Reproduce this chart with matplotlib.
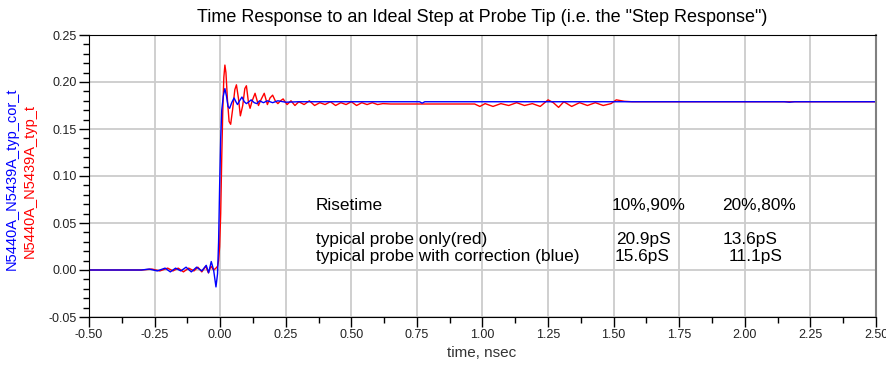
import matplotlib.pyplot as plt
from matplotlib.ticker import MultipleLocator

plt.rcParams['font.family'] = ['Liberation Sans', 'DejaVu Sans']

# probe only (red), time in nsec
red_t = [-0.50, -0.30, -0.26, -0.23, -0.20, -0.18, -0.16, -0.14, -0.12, -0.10,
         -0.085, -0.07, -0.055, -0.045, -0.035, -0.025, -0.016, -0.010, -0.006,
         -0.002, 0.002, 0.006, 0.010, 0.014, 0.018, 0.022, 0.028, 0.034, 0.040,
         0.048, 0.056, 0.062, 0.070, 0.077, 0.086, 0.094, 0.100, 0.108, 0.114,
         0.122, 0.133, 0.146, 0.157, 0.168, 0.180, 0.190, 0.200, 0.210, 0.220,
         0.230, 0.240, 0.255, 0.270, 0.285, 0.300, 0.320, 0.340, 0.360, 0.380,
         0.400, 0.420, 0.440, 0.460, 0.480, 0.500, 0.520, 0.540, 0.560, 0.580,
         0.600, 0.620, 0.650, 0.970, 0.990, 1.010, 1.040, 1.070, 1.100, 1.130,
         1.160, 1.190, 1.220, 1.250, 1.270, 1.290, 1.310, 1.340, 1.370, 1.400,
         1.430, 1.460, 1.490, 1.510, 1.540, 1.570, 2.500]
red_v = [0.000, 0.000, 0.001, -0.001, 0.002, -0.001, 0.002, -0.002, 0.002, -0.001,
         0.003, -0.002, 0.004, -0.003, 0.004, 0.000, 0.002, 0.004, 0.010,
         0.025, 0.060, 0.120, 0.170, 0.205, 0.218, 0.210, 0.180, 0.158, 0.155,
         0.172, 0.192, 0.197, 0.182, 0.164, 0.175, 0.193, 0.196, 0.178, 0.172,
         0.180, 0.188, 0.175, 0.182, 0.188, 0.176, 0.183, 0.186, 0.180, 0.177,
         0.180, 0.182, 0.176, 0.180, 0.175, 0.179, 0.176, 0.180, 0.175, 0.178,
         0.176, 0.179, 0.175, 0.178, 0.176, 0.179, 0.175, 0.178, 0.176, 0.178,
         0.176, 0.177, 0.1766, 0.1766, 0.174, 0.177, 0.174, 0.177, 0.175, 0.178,
         0.175, 0.177, 0.174, 0.181, 0.178, 0.173, 0.179, 0.174, 0.178, 0.175,
         0.178, 0.175, 0.177, 0.181, 0.1795, 0.179, 0.179]

# probe with correction (blue)
blue_t = [-0.50, -0.30, -0.27, -0.24, -0.21, -0.19, -0.17, -0.15, -0.13, -0.11,
          -0.09, -0.07, -0.053, -0.044, -0.034, -0.025, -0.016, -0.010, -0.006,
          -0.002, 0.002, 0.006, 0.012, 0.018, 0.024, 0.030, 0.036, 0.044, 0.053,
          0.060, 0.066, 0.074, 0.083, 0.092, 0.100, 0.110, 0.118, 0.130, 0.140,
          0.150, 0.165, 0.180, 0.200, 0.220, 0.250, 0.300, 0.760, 0.770, 0.780,
          2.150, 2.170, 2.190, 2.500]
blue_v = [0.000, 0.000, 0.001, -0.001, 0.002, -0.002, 0.002, -0.001, 0.003, -0.002,
          0.003, -0.001, 0.005, -0.003, 0.009, 0.000, -0.018, -0.004, 0.030,
          0.090, 0.140, 0.170, 0.185, 0.193, 0.185, 0.174, 0.172, 0.178, 0.183,
          0.179, 0.176, 0.180, 0.184, 0.179, 0.177, 0.179, 0.181, 0.178, 0.177,
          0.180, 0.178, 0.180, 0.178, 0.180, 0.1785, 0.179, 0.179, 0.1775, 0.179,
          0.179, 0.1785, 0.179, 0.179]

rise_rows = ['typical probe only(red)', 'typical probe with correction (blue)']
rise_1090 = ['20.9pS', '15.6pS']
rise_2080 = ['13.6pS', '11.1pS']

fig = plt.figure(figsize=(8.87, 3.69), dpi=100)
ax = fig.add_axes([89 / 887, 1 - 317 / 369, 787 / 887, 282 / 369])

ax.plot(red_t, red_v, color='#ff0000', lw=1.0)
ax.plot(blue_t, blue_v, color='#0000ff', lw=1.0)

ax.set_xlim(-0.5, 2.5)
ax.set_ylim(-0.05, 0.25)
ax.xaxis.set_major_locator(MultipleLocator(0.25))
ax.xaxis.set_minor_locator(MultipleLocator(0.125))
ax.yaxis.set_major_locator(MultipleLocator(0.05))
ax.yaxis.set_minor_locator(MultipleLocator(0.01))
ax.xaxis.set_major_formatter(plt.FormatStrFormatter('%.2f'))
ax.yaxis.set_major_formatter(plt.FormatStrFormatter('%.2f'))
ax.tick_params(which='major', length=7, width=1, labelsize=9, direction='out',
               labelcolor='#222222', pad=2)
ax.tick_params(which='minor', length=4, width=1, direction='out')
ax.grid(True, which='major', color='#cccccc', lw=1.3)
ax.set_axisbelow(True)
for side in ['left', 'bottom', 'top']:
    ax.spines[side].set_color('black')
ax.spines['right'].set_color('#808080')
ax.spines['right'].set_linewidth(1.5)

ax.set_title('Time Response to an Ideal Step at Probe Tip (i.e. the "Step Response")',
             fontsize=13, pad=9)
fig.text(482 / 887, 1 - 353 / 369, 'time, nsec', fontsize=11, color='#333333',
         ha='center', va='center')

fig.text(12 / 887, 0.515, 'N5440A_N5439A_typ_cor_t', color='#0000ff', fontsize=10.5,
         rotation=90, ha='center', va='center')
fig.text(30 / 887, 0.51, 'N5440A_N5439A_typ_t', color='#ff0000', fontsize=10.5,
         rotation=90, ha='center', va='center')

fs = 12.4
ax.text(0.365, 0.069, 'Risetime', fontsize=fs, va='center')
ax.text(1.494, 0.069, '10%,90%', fontsize=fs, va='center')
ax.text(1.913, 0.069, '20%,80%', fontsize=fs, va='center')
for i, y in enumerate([0.032, 0.0145]):
    ax.text(0.365, y, rise_rows[i], fontsize=fs, va='center')
    ax.text(1.51 - 0.005 * i, y, rise_1090[i], fontsize=fs, va='center')
    ax.text(1.917 + 0.022 * i, y, rise_2080[i], fontsize=fs, va='center')

fig.savefig('out.png', dpi=100)
